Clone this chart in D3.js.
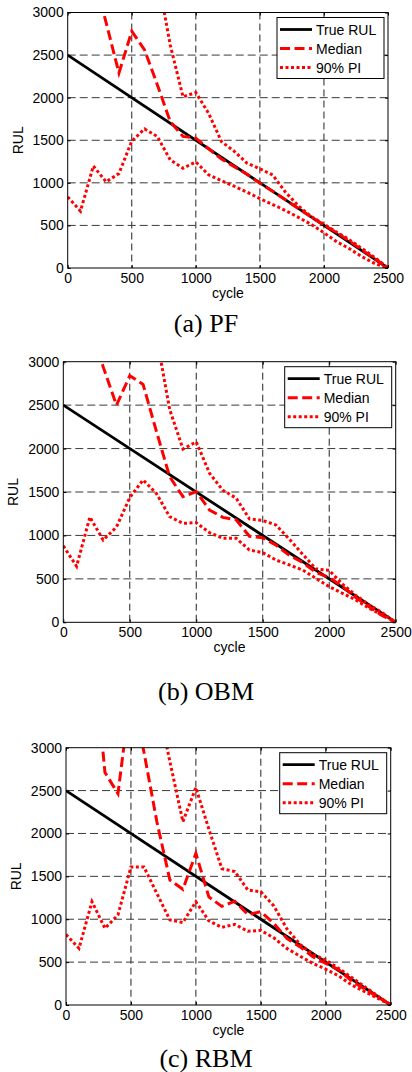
<!DOCTYPE html>
<html>
<head>
<meta charset="utf-8">
<script src="https://cdn.jsdelivr.net/npm/d3@7"></script>
<style>
body { margin: 0; background: #fff; }
svg text { font-family: "Liberation Sans", Arial, sans-serif; }
</style>
</head>
<body>
<div id="chart"></div>
<script>
// sample points (cycle) shared by all three panels
var cycles = [0, 100, 200, 300, 400, 500, 600, 700, 800, 900, 1000, 1100, 1200,
              1300, 1400, 1500, 1600, 1700, 1800, 1900, 2000, 2100, 2200, 2300, 2400, 2500];

// true RUL is a straight line end to end
var trueCycle = [0, 2500];
var trueRUL = [2500, 0];

var xTicks = [0, 500, 1000, 1500, 2000, 2500];
var yTicks = [0, 500, 1000, 1500, 2000, 2500, 3000];
var legendLabels = ["True RUL", "Median", "90% PI"];
var captions = ["(a) PF", "(b) OBM", "(c) RBM"];

// (a) PF  -- null = above the plot, not readable
var pfMedian = [null, null, 3450, 2880, 2290, 2780, 2560, 2150, 1720, 1545, 1525, 1400, 1280,
                1190, 1100, 995, 900, 800, 700, 600, 505, 415, 315, 210, 105, 0];
var pfUpper  = [null, null, null, null, null, null, null, 3450, 2620, 2010, 2060, 1816, 1484,
                1370, 1230, 1165, 1092, 890, 730, 604, 515, 420, 330, 225, 120, 0];
var pfLower  = [835, 668, 1197, 1012, 1110, 1490, 1633, 1543, 1270, 1172, 1245, 1094, 1025,
                960, 890, 815, 745, 675, 595, 512, 414, 309, 225, 130, 50, 0];

// (b) OBM
var obmMedian = [null, null, 3450, 2940, 2500, 2838, 2739, 2200, 1676, 1446, 1504, 1293, 1208,
                 1180, 990, 972, 889, 770, 690, 575, 515, 412, 285, 180, 75, 0];
var obmUpper  = [null, null, null, null, null, null, null, 3300, 2450, 1995, 2077, 1715, 1520,
                 1430, 1190, 1172, 1120, 957, 784, 615, 598, 440, 310, 200, 110, 0];
var obmLower  = [880, 645, 1212, 947, 1097, 1437, 1638, 1484, 1216, 1139, 1147, 1032, 967,
                 967, 832, 802, 717, 660, 602, 506, 410, 334, 257, 161, 84, 0];

// (c) RBM
var rbmMedian = [null, null, 4300, 2710, 2465, 3660, 2950, 2134, 1457, 1349, 1768, 1260, 1150,
                 1210, 1055, 1088, 952, 777, 680, 563, 485, 410, 280, 184, 96, 0];
var rbmUpper  = [null, null, null, null, null, null, null, 3580, 2837, 2137, 2535, 2050, 1590,
                 1555, 1340, 1320, 1155, 890, 710, 590, 524, 427, 320, 213, 106, 0];
var rbmLower  = [822, 660, 1205, 894, 1050, 1610, 1610, 1300, 991, 962, 1205, 980, 905,
                 940, 860, 870, 783, 660, 572, 485, 417, 339, 233, 155, 78, 0];

var panels = [
  {median: pfMedian,  upper: pfUpper,  lower: pfLower,  left: 67.7, right: 388,   top: 12.5,  bottom: 268,   capY: 332},
  {median: obmMedian, upper: obmUpper, lower: obmLower, left: 63.3, right: 395.7, top: 361.7, bottom: 622.3, capY: 700},
  {median: rbmMedian, upper: rbmUpper, lower: rbmLower, left: 66,   right: 390.7, top: 747.7, bottom: 1005,  capY: 1067}
];

var svg = d3.select("#chart").append("svg")
    .attr("width", 412)
    .attr("height", 1072)
    .style("background", "#fff");

var defs = svg.append("defs");

function styleAxis(sel) {
  sel.attr("font-size", 14)
     .attr("font-family", "'Liberation Sans', Arial, sans-serif");
  sel.select(".domain").remove();
  sel.selectAll(".tick line").attr("stroke", "#000");
  sel.selectAll(".tick text").attr("fill", "#000");
}

panels.forEach(function(p, i) {
  var x = d3.scaleLinear().domain([0, 2500]).range([p.left, p.right]);
  var y = d3.scaleLinear().domain([0, 3000]).range([p.bottom, p.top]);
  var w = p.right - p.left, h = p.bottom - p.top;

  defs.append("clipPath").attr("id", "clip" + i)
    .append("rect").attr("x", p.left).attr("y", p.top).attr("width", w).attr("height", h);

  var g = svg.append("g");

  // dashed grid
  g.append("g").selectAll("line").data(xTicks.slice(1, -1)).enter().append("line")
    .attr("x1", x).attr("x2", x).attr("y1", p.top).attr("y2", p.bottom)
    .attr("stroke", "#222").attr("stroke-width", 1).attr("stroke-dasharray", "7,4");
  g.append("g").selectAll("line").data(yTicks.slice(1, -1)).enter().append("line")
    .attr("y1", y).attr("y2", y).attr("x1", p.left).attr("x2", p.right)
    .attr("stroke", "#3a3a3a").attr("stroke-width", 1).attr("stroke-dasharray", "8,4");

  // axes, ticks pointing inward like matlab
  g.append("g").attr("transform", "translate(0," + p.bottom + ")")
    .call(d3.axisBottom(x).tickValues(xTicks).tickSizeInner(-3).tickSizeOuter(0).tickPadding(5).tickFormat(d3.format("d")))
    .call(styleAxis);
  g.append("g").attr("transform", "translate(" + p.left + ",0)")
    .call(d3.axisLeft(y).tickValues(yTicks).tickSizeInner(-3).tickSizeOuter(0).tickPadding(4).tickFormat(d3.format("d")))
    .call(styleAxis);
  g.append("g").attr("transform", "translate(0," + p.top + ")")
    .call(d3.axisTop(x).tickValues(xTicks).tickSizeInner(-3).tickSizeOuter(0).tickFormat(""))
    .call(styleAxis);
  g.append("g").attr("transform", "translate(" + p.right + ",0)")
    .call(d3.axisRight(y).tickValues(yTicks).tickSizeInner(-3).tickSizeOuter(0).tickFormat(""))
    .call(styleAxis);

  // lines
  var line = d3.line()
    .defined(function(d) { return d.v != null; })
    .x(function(d) { return x(d.c); })
    .y(function(d) { return y(d.v); });

  var plot = g.append("g").attr("clip-path", "url(#clip" + i + ")");

  plot.append("path")
    .datum(trueCycle.map(function(c, k) { return {c: c, v: trueRUL[k]}; }))
    .attr("d", line).attr("fill", "none")
    .attr("stroke", "#000").attr("stroke-width", 2.8);

  plot.append("path")
    .datum(cycles.map(function(c, k) { return {c: c, v: p.median[k]}; }))
    .attr("d", line).attr("fill", "none")
    .attr("stroke", "#ff0000").attr("stroke-width", 3).attr("stroke-dasharray", "10,4.5");

  [p.upper, p.lower].forEach(function(s) {
    plot.append("path")
      .datum(cycles.map(function(c, k) { return {c: c, v: s[k]}; }))
      .attr("d", line).attr("fill", "none")
      .attr("stroke", "#ff0000").attr("stroke-width", 3).attr("stroke-dasharray", "3,2.5");
  });

  // box
  g.append("rect")
    .attr("x", p.left).attr("y", p.top).attr("width", w).attr("height", h)
    .attr("fill", "none").attr("stroke", "#000").attr("stroke-width", 1);

  // labels
  g.append("text")
    .attr("x", (p.left + p.right) / 2).attr("y", p.bottom + 30)
    .attr("text-anchor", "middle").attr("font-size", 14)
    .text("cycle");
  g.append("text")
    .attr("transform", "translate(" + (p.left - 45) + "," + (p.top + h / 2) + ") rotate(-90)")
    .attr("text-anchor", "middle").attr("font-size", 14)
    .text("RUL");
  g.append("text")
    .attr("x", 206).attr("y", p.capY)
    .attr("text-anchor", "middle").attr("font-size", 26)
    .style("font-family", "'Liberation Serif', 'Times New Roman', serif")
    .text(captions[i]);

  // legend
  var lw = 107, lh = 61;
  var lg = g.append("g").attr("transform", "translate(" + (p.right - 4 - lw) + "," + (p.top + 5) + ")");
  lg.append("rect").attr("width", lw).attr("height", lh)
    .attr("fill", "#fff").attr("stroke", "#000").attr("stroke-width", 1);
  var styles = [
    {stroke: "#000", dash: null, width: 2.8},
    {stroke: "#ff0000", dash: "10,4.5", width: 3},
    {stroke: "#ff0000", dash: "3,2.5", width: 3}
  ];
  legendLabels.forEach(function(lab, k) {
    var ly = 12 + k * 19;
    lg.append("line")
      .attr("x1", 3).attr("x2", 35).attr("y1", ly).attr("y2", ly)
      .attr("stroke", styles[k].stroke).attr("stroke-width", styles[k].width)
      .attr("stroke-dasharray", styles[k].dash);
    lg.append("text")
      .attr("x", 39).attr("y", ly).attr("dy", "0.36em")
      .attr("font-size", 14).text(lab);
  });
});
</script>
</body>
</html>
